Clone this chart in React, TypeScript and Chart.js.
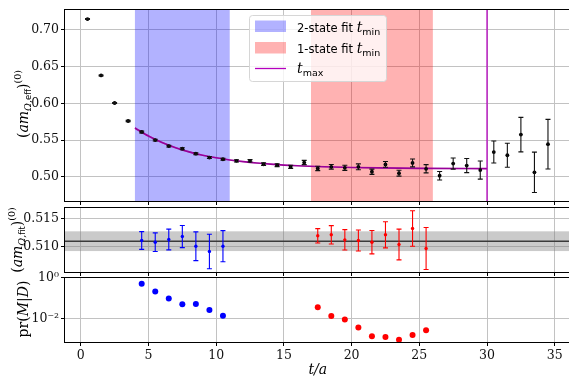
import React, { useEffect, useRef } from 'react';
import { Chart, registerables } from 'chart.js';
Chart.register(...registerables);

// ---------- data ----------
const X_TICKS = [0, 5, 10, 15, 20, 25, 30, 35];

const T_EFF = [0.5, 1.5, 2.5, 3.5, 4.5, 5.5, 6.5, 7.5, 8.5, 9.5, 10.5, 11.5, 12.5, 13.5, 14.5, 15.5, 16.5, 17.5,
  18.5, 19.5, 20.5, 21.5, 22.5, 23.5, 24.5, 25.5, 26.5, 27.5, 28.5, 29.5, 30.5, 31.5, 32.5, 33.5, 34.5];
const M_EFF = [0.7147, 0.638, 0.6005, 0.576, 0.5611, 0.55, 0.5419, 0.5383, 0.5316, 0.5263, 0.524, 0.5218, 0.5218,
  0.5172, 0.5159, 0.5137, 0.5195, 0.5115, 0.5137, 0.5123, 0.5137, 0.507, 0.517, 0.505, 0.519, 0.511, 0.5016,
  0.5181, 0.5154, 0.5092, 0.5338, 0.5294, 0.5575, 0.5062, 0.5445];
const E_EFF = [0.0006, 0.0006, 0.0006, 0.0008, 0.0012, 0.0012, 0.0012, 0.0013, 0.0013, 0.0014, 0.0014, 0.0015,
  0.0016, 0.0018, 0.002, 0.0022, 0.0029, 0.003, 0.0032, 0.0035, 0.004, 0.0036, 0.004, 0.004, 0.0054, 0.0056,
  0.0058, 0.0076, 0.0096, 0.0123, 0.015, 0.0163, 0.0235, 0.0275, 0.0337];

const FIT_T = [4, 5, 6, 7, 8, 9, 10, 11, 12, 13, 14, 16, 18, 20, 22, 25, 30];
const FIT_M = [0.5665, 0.5555, 0.5467, 0.5397, 0.534, 0.5295, 0.5259, 0.523, 0.5207, 0.5188, 0.5173, 0.5151,
  0.5137, 0.5128, 0.5122, 0.5116, 0.5112];
const FIT_E = [0.0016, 0.0014, 0.0013, 0.0012, 0.0011, 0.001, 0.001, 0.0009, 0.0009, 0.0009, 0.0008, 0.0008,
  0.0008, 0.0008, 0.0008, 0.0008, 0.0008];

const BLUE_RANGE = [4, 11];
const RED_RANGE = [17, 26];
const T_MAX = 30;

const T_BLUE = [4.5, 5.5, 6.5, 7.5, 8.5, 9.5, 10.5];
const M_BLUE = [0.51108, 0.51078, 0.51126, 0.5118, 0.51005, 0.5091, 0.51006];
const E_BLUE = [0.0016, 0.00168, 0.00187, 0.002, 0.0026, 0.0031, 0.0028];
const P_BLUE = [0.49, 0.204, 0.093, 0.049, 0.05, 0.0257, 0.0135];

const T_RED = [17.5, 18.5, 19.5, 20.5, 21.5, 22.5, 23.5, 24.5, 25.5];
const M_RED = [0.51193, 0.51211, 0.5112, 0.51108, 0.51078, 0.51211, 0.51036, 0.51325, 0.50964];
const E_RED = [0.0013, 0.00166, 0.00184, 0.0019, 0.0021, 0.00235, 0.00277, 0.0032, 0.0038];
const P_RED = [0.0347, 0.0129, 0.0089, 0.0036, 0.00135, 0.00124, 0.00089, 0.00155, 0.0026];

const AVG_M = 0.51096;
const AVG_E = 0.00178;

const Y_TICKS_TOP = [0.5, 0.55, 0.6, 0.65, 0.7];
const Y_TICKS_MID = [0.51, 0.515];
const Y_TICKS_BOT = [1, 0.01];
const Y_LABELS_BOT = ['10\u2070', '10\u207B\u00B2'];

// ---------- layout / style ----------
const W = 575, H = 377;
const AXIS_LEFT = 64.5, AXIS_RIGHT = 571.3;
const X_MIN = -1.2, X_MAX = 36.2;
const GRID = '#c2c2c2';
const SERIF = '"DejaVu Serif", serif';
const SANS = '"DejaVu Sans", sans-serif';
const PURPLE = 'rgb(180,0,190)';
const TICK_FONT = { family: SERIF, size: 12.5 };

type Seg = { t: string; font: string; dy?: number };

function drawSegs(ctx: CanvasRenderingContext2D, segs: Seg[], x: number, y: number, align: 'left' | 'center', rot = 0) {
  ctx.save();
  ctx.translate(x, y);
  if (rot) ctx.rotate(rot);
  ctx.textBaseline = 'alphabetic';
  ctx.textAlign = 'left';
  ctx.fillStyle = '#000';
  const widths = segs.map((s) => { ctx.font = s.font; return ctx.measureText(s.t).width; });
  const total = widths.reduce((a, b) => a + b, 0);
  let cx = align === 'center' ? -total / 2 : 0;
  segs.forEach((s, i) => { ctx.font = s.font; ctx.fillText(s.t, cx, s.dy ?? 0); cx += widths[i]; });
  ctx.restore();
}

const framePlugin = {
  id: 'frame',
  afterDraw(chart: any) {
    const { ctx, chartArea: a } = chart;
    ctx.save();
    ctx.strokeStyle = '#000';
    ctx.lineWidth = 1;
    ctx.strokeRect(a.left, a.top, a.right - a.left, a.bottom - a.top);
    ctx.restore();
  },
};

const errorBarPlugin = {
  id: 'errorBars',
  afterDatasetsDraw(chart: any) {
    const { ctx } = chart;
    const xs = chart.scales.x, ys = chart.scales.y;
    chart.data.datasets.forEach((ds: any) => {
      if (!ds.errors) return;
      ctx.save();
      ctx.strokeStyle = ds.errColor;
      ctx.lineWidth = 1.1;
      ds.data.forEach((p: any, i: number) => {
        const e = ds.errors[i];
        const px = xs.getPixelForValue(p.x);
        const y1 = ys.getPixelForValue(p.y - e);
        const y2 = ys.getPixelForValue(p.y + e);
        ctx.beginPath();
        ctx.moveTo(px, y1); ctx.lineTo(px, y2);
        ctx.moveTo(px - 2.5, y1); ctx.lineTo(px + 2.5, y1);
        ctx.moveTo(px - 2.5, y2); ctx.lineTo(px + 2.5, y2);
        ctx.stroke();
      });
      ctx.restore();
    });
  },
};

function makeOptions(p: {
  top: number; bottom: number; xAxisH: number; showX: boolean;
  yType: 'linear' | 'logarithmic'; yMin: number; yMax: number; yTicks: number[]; yFmt: (v: number) => string;
}) {
  return {
    responsive: false,
    animation: false,
    devicePixelRatio: 1,
    events: [],
    layout: { padding: { left: 0, right: W - AXIS_RIGHT, top: p.top, bottom: H - p.bottom - p.xAxisH } },
    plugins: { legend: { display: false }, tooltip: { enabled: false } },
    scales: {
      x: {
        type: 'linear',
        min: X_MIN,
        max: X_MAX,
        afterBuildTicks: (s: any) => { s.ticks = X_TICKS.map((v) => ({ value: v })); },
        afterFit: (s: any) => { s.height = p.xAxisH; },
        grid: { color: GRID, lineWidth: 1, tickLength: 3.5, tickColor: '#000', drawTicks: true },
        border: { display: false },
        ticks: { display: p.showX, font: TICK_FONT, color: '#111', padding: 2, maxRotation: 0, autoSkip: false,
          callback: (v: any) => String(v) },
      },
      y: {
        type: p.yType,
        min: p.yMin,
        max: p.yMax,
        afterBuildTicks: (s: any) => { s.ticks = p.yTicks.map((v) => ({ value: v })); },
        afterFit: (s: any) => { s.width = AXIS_LEFT; },
        grid: { color: GRID, lineWidth: 1, tickLength: 3.5, tickColor: '#000', drawTicks: true },
        border: { display: false },
        ticks: { font: TICK_FONT, color: '#111', padding: 2, autoSkip: false, callback: (v: any) => p.yFmt(Number(v)) },
      },
    },
  } as any;
}

const pts = (ts: number[], vs: number[]) => ts.map((t, i) => ({ x: t, y: vs[i] }));

// ---------- panels ----------
function topConfig(): any {
  const bandsPlugin = {
    id: 'bandsTop',
    beforeDatasetsDraw(chart: any) {
      const { ctx, chartArea: a } = chart;
      const xs = chart.scales.x;
      ctx.save();
      ctx.fillStyle = 'rgba(0,0,255,0.3)';
      ctx.fillRect(xs.getPixelForValue(BLUE_RANGE[0]), a.top, xs.getPixelForValue(BLUE_RANGE[1]) - xs.getPixelForValue(BLUE_RANGE[0]), a.bottom - a.top);
      ctx.fillStyle = 'rgba(255,0,0,0.3)';
      ctx.fillRect(xs.getPixelForValue(RED_RANGE[0]), a.top, xs.getPixelForValue(RED_RANGE[1]) - xs.getPixelForValue(RED_RANGE[0]), a.bottom - a.top);
      ctx.restore();
    },
    afterDatasetsDraw(chart: any) {
      const { ctx, chartArea: a } = chart;
      const xs = chart.scales.x;
      const vx = xs.getPixelForValue(T_MAX);
      ctx.save();
      ctx.strokeStyle = PURPLE;
      ctx.lineWidth = 1.3;
      ctx.beginPath(); ctx.moveTo(vx, a.top); ctx.lineTo(vx, a.bottom); ctx.stroke();
      ctx.restore();
    },
    afterDraw(chart: any) {
      const { ctx } = chart;
      // legend
      ctx.save();
      ctx.fillStyle = 'rgba(255,255,255,0.8)';
      ctx.strokeStyle = '#d6d6d6';
      ctx.lineWidth = 1;
      ctx.beginPath();
      (ctx as any).roundRect(249.5, 15.5, 137, 66, 3);
      ctx.fill(); ctx.stroke();
      ctx.fillStyle = 'rgba(0,0,255,0.3)';
      ctx.fillRect(255, 20.5, 31, 11.5);
      ctx.fillStyle = 'rgba(255,0,0,0.3)';
      ctx.fillRect(255, 42, 31, 11.5);
      ctx.strokeStyle = PURPLE;
      ctx.lineWidth = 1.3;
      ctx.beginPath(); ctx.moveTo(255, 68.5); ctx.lineTo(286, 68.5); ctx.stroke();
      ctx.restore();
      const sans = `11.5px ${SANS}`, it = `italic 14px ${SERIF}`, sub = `9.5px ${SANS}`;
      drawSegs(ctx, [{ t: '2-state fit ', font: sans }, { t: 't', font: it }, { t: 'min', font: sub, dy: 3 }], 297, 31.5, 'left');
      drawSegs(ctx, [{ t: '1-state fit ', font: sans }, { t: 't', font: it }, { t: 'min', font: sub, dy: 3 }], 297, 53, 'left');
      drawSegs(ctx, [{ t: 't', font: it }, { t: 'max', font: sub, dy: 3 }], 297, 73, 'left');
      // y label
      drawSegs(ctx, [
        { t: '(', font: `14px ${SERIF}` },
        { t: 'am', font: `italic 14px ${SERIF}` },
        { t: '\u03A9,', font: `italic 9.5px ${SERIF}`, dy: 3 },
        { t: 'eff', font: `8.5px ${SANS}`, dy: 3 },
        { t: ')', font: `14px ${SERIF}` },
        { t: '(0)', font: `9.5px ${SERIF}`, dy: -7 },
      ], 28, 104, 'center', -Math.PI / 2);
    },
  };
  const up = FIT_M.map((m, i) => m + FIT_E[i]);
  const lo = FIT_M.map((m, i) => m - FIT_E[i]);
  return {
    type: 'scatter',
    data: {
      datasets: [
        { data: pts(T_EFF, M_EFF), errors: E_EFF, errColor: '#111', backgroundColor: '#000', borderColor: '#000',
          pointRadius: 1.9, pointBorderWidth: 0, showLine: false },
        { data: pts(FIT_T, FIT_M), showLine: true, borderColor: '#990099', borderWidth: 1.6, pointRadius: 0,
          cubicInterpolationMode: 'monotone', fill: false },
        { data: pts(FIT_T, up), showLine: true, borderWidth: 0, pointRadius: 0, cubicInterpolationMode: 'monotone', fill: false },
        { data: pts(FIT_T, lo), showLine: true, borderWidth: 0, pointRadius: 0, cubicInterpolationMode: 'monotone',
          fill: '-1', backgroundColor: 'rgba(170,0,170,0.35)' },
      ],
    },
    options: makeOptions({ top: 6.5, bottom: 201.5, xAxisH: 3.5, showX: false, yType: 'linear', yMin: 0.4665, yMax: 0.7277,
      yTicks: Y_TICKS_TOP, yFmt: (v) => v.toFixed(2) }),
    plugins: [bandsPlugin, errorBarPlugin, framePlugin],
  };
}

function midConfig(): any {
  const avgPlugin = {
    id: 'avgBand',
    beforeDatasetsDraw(chart: any) {
      const { ctx, chartArea: a } = chart;
      const ys = chart.scales.y;
      const y1 = ys.getPixelForValue(AVG_M + AVG_E), y2 = ys.getPixelForValue(AVG_M - AVG_E);
      ctx.save();
      ctx.fillStyle = 'rgba(128,128,128,0.42)';
      ctx.fillRect(a.left, y1, a.right - a.left, y2 - y1);
      ctx.strokeStyle = '#3a3a3a';
      ctx.lineWidth = 1.5;
      const yc = ys.getPixelForValue(AVG_M);
      ctx.beginPath(); ctx.moveTo(a.left, yc); ctx.lineTo(a.right, yc); ctx.stroke();
      ctx.restore();
    },
    afterDraw(chart: any) {
      drawSegs(chart.ctx, [
        { t: '(', font: `14px ${SERIF}` },
        { t: 'am', font: `italic 14px ${SERIF}` },
        { t: '\u03A9,', font: `italic 9.5px ${SERIF}`, dy: 3 },
        { t: 'fit', font: `8.5px ${SANS}`, dy: 3 },
        { t: ')', font: `14px ${SERIF}` },
        { t: '(0)', font: `9.5px ${SERIF}`, dy: -7 },
      ], 22, 240, 'center', -Math.PI / 2);
    },
  };
  return {
    type: 'scatter',
    data: {
      datasets: [
        { data: pts(T_BLUE, M_BLUE), errors: E_BLUE, errColor: '#0000ff', backgroundColor: '#0000ff', pointRadius: 1.7,
          pointBorderWidth: 0, showLine: false },
        { data: pts(T_RED, M_RED), errors: E_RED, errColor: '#ff0000', backgroundColor: '#ff0000', pointRadius: 1.7,
          pointBorderWidth: 0, showLine: false },
      ],
    },
    options: makeOptions({ top: 207.5, bottom: 272.5, xAxisH: 3.5, showX: false, yType: 'linear', yMin: 0.50531, yMax: 0.51704,
      yTicks: Y_TICKS_MID, yFmt: (v) => v.toFixed(3) }),
    plugins: [avgPlugin, errorBarPlugin, framePlugin],
  };
}

function botConfig(): any {
  const labelPlugin = {
    id: 'botLabels',
    afterDraw(chart: any) {
      const { ctx } = chart;
      drawSegs(ctx, [
        { t: 'pr(', font: `14px ${SERIF}` },
        { t: 'M', font: `italic 14px ${SERIF}` },
        { t: '|', font: `14px ${SERIF}` },
        { t: 'D', font: `italic 14px ${SERIF}` },
        { t: ')', font: `14px ${SERIF}` },
      ], 28, 309, 'center', -Math.PI / 2);
      const a = chart.chartArea;
      drawSegs(ctx, [{ t: 't/a', font: `italic 14px ${SERIF}` }], (a.left + a.right) / 2, 374, 'center');
    },
  };
  return {
    type: 'scatter',
    data: {
      datasets: [
        { data: pts(T_BLUE, P_BLUE), backgroundColor: '#0000ff', pointRadius: 3, pointBorderWidth: 0, showLine: false },
        { data: pts(T_RED, P_RED), backgroundColor: '#ff0000', pointRadius: 3, pointBorderWidth: 0, showLine: false },
      ],
    },
    options: makeOptions({ top: 277.5, bottom: 342.5, xAxisH: 377 - 342.5, showX: true, yType: 'logarithmic',
      yMin: 0.00066, yMax: 1, yTicks: Y_TICKS_BOT,
      yFmt: (v) => Y_LABELS_BOT[Y_TICKS_BOT.findIndex((t) => Math.abs(Math.log10(t) - Math.log10(v)) < 1e-6)] ?? '' }),
    plugins: [labelPlugin, framePlugin],
  };
}

function Panel({ make }: { make: () => any }) {
  const ref = useRef<HTMLCanvasElement | null>(null);
  useEffect(() => {
    if (!ref.current) return;
    const chart = new Chart(ref.current, make());
    return () => chart.destroy();
  }, [make]);
  return <canvas ref={ref} width={W} height={H} style={{ position: 'absolute', left: 0, top: 0, width: W, height: H }} />;
}

export default function App() {
  return (
    <div style={{ position: 'fixed', left: 0, top: 0, width: 569, height: 377, overflow: 'hidden', background: '#fff' }}>
      <Panel make={topConfig} />
      <Panel make={midConfig} />
      <Panel make={botConfig} />
    </div>
  );
}
